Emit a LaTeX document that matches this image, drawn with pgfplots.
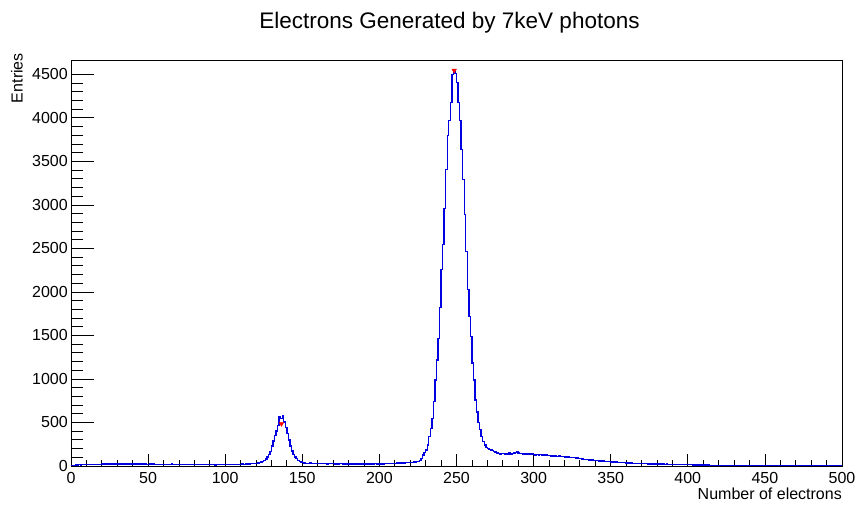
\documentclass[border=0pt]{standalone}
\usepackage{fontspec}
\setmainfont{Liberation Sans}
\usepackage{pgfplots}
\usepackage{pgfplotstable}
\pgfplotsset{compat=1.18}
\definecolor{rootblue}{RGB}{0,0,225}
\definecolor{rootred}{RGB}{255,0,0}
% histogram contents, bins of width 1 from 0 to 500 (last row closes the last bin)
\pgfplotstableread[row sep=\\]{
y\\
3\\6\\9\\11\\13\\14\\12\\15\\16\\14\\
17\\15\\18\\16\\19\\17\\20\\18\\17\\19\\
21\\19\\22\\24\\20\\23\\26\\22\\25\\23\\
26\\24\\27\\23\\28\\25\\22\\24\\26\\23\\
21\\24\\22\\20\\23\\25\\21\\19\\22\\20\\
18\\21\\19\\22\\17\\20\\18\\16\\19\\17\\
20\\18\\15\\19\\17\\21\\18\\16\\19\\17\\
15\\18\\16\\19\\17\\14\\18\\16\\15\\17\\
16\\14\\17\\15\\18\\16\\14\\17\\15\\16\\
14\\17\\15\\13\\16\\14\\17\\15\\16\\14\\
15\\16\\14\\17\\16\\18\\17\\19\\18\\20\\
19\\21\\20\\22\\23\\25\\26\\27\\29\\30\\
32\\35\\38\\44\\52\\63\\80\\103\\130\\168\\
228\\288\\350\\402\\462\\570\\545\\575\\505\\440\\
370\\300\\232\\172\\135\\105\\84\\66\\55\\45\\
39\\35\\32\\31\\29\\33\\30\\28\\32\\30\\
27\\31\\29\\26\\30\\28\\25\\29\\27\\26\\
28\\25\\27\\24\\28\\26\\23\\27\\25\\24\\
26\\23\\25\\27\\24\\22\\26\\24\\23\\25\\
22\\24\\26\\23\\25\\22\\24\\26\\23\\25\\
24\\27\\25\\28\\26\\29\\27\\30\\28\\31\\
30\\33\\31\\34\\33\\36\\35\\38\\37\\40\\
41\\43\\45\\47\\50\\55\\66\\88\\126\\152\\
184\\241\\337\\433\\548\\739\\988\\1218\\1467\\1818\\
2256\\2543\\2958\\3407\\3798\\3970\\4174\\4500\\4530\\4510\\
4404\\4174\\3970\\3637\\3291\\2889\\2463\\2026\\1715\\1488\\
1185\\990\\760\\621\\500\\420\\340\\280\\240\\215\\
203\\190\\182\\175\\170\\162\\150\\145\\140\\146\\
142\\138\\145\\140\\150\\137\\143\\148\\155\\160\\
150\\142\\146\\138\\144\\140\\136\\142\\135\\138\\
132\\128\\130\\125\\129\\124\\127\\122\\125\\119\\
118\\115\\120\\112\\116\\110\\114\\108\\111\\106\\
104\\100\\103\\98\\101\\96\\99\\94\\92\\88\\
84\\80\\78\\75\\77\\72\\70\\68\\71\\66\\
63\\60\\58\\61\\56\\58\\54\\55\\52\\50\\
48\\46\\44\\45\\42\\43\\40\\41\\38\\37\\
36\\34\\33\\35\\31\\32\\30\\29\\31\\28\\
28\\27\\26\\27\\25\\26\\24\\25\\24\\23\\
24\\22\\23\\21\\22\\20\\21\\19\\20\\19\\
18\\19\\17\\18\\16\\17\\15\\16\\15\\16\\
16\\14\\15\\13\\14\\12\\13\\11\\12\\10\\
11\\10\\9\\10\\8\\9\\7\\8\\7\\6\\
6\\5\\6\\5\\4\\5\\4\\4\\3\\4\\
3\\3\\2\\3\\2\\2\\3\\2\\1\\2\\
1\\2\\1\\1\\0\\1\\1\\0\\1\\0\\
0\\1\\0\\0\\0\\1\\0\\0\\0\\0\\
0\\0\\0\\0\\0\\0\\0\\0\\0\\0\\
0\\0\\0\\0\\0\\0\\0\\0\\0\\0\\
0\\0\\0\\0\\0\\0\\0\\0\\0\\0\\
0\\0\\0\\0\\0\\0\\0\\0\\0\\0\\
0\\
}\histdata
\begin{document}
\begin{tikzpicture}
\useasboundingbox (-71bp,-40bp) rectangle (788bp,466bp);
\begin{axis}[
  at={(0,0)}, anchor=south west,
  scale only axis, width=771bp, height=406bp,
  xmin=0, xmax=500, ymin=0, ymax=4665,
  axis line style={line width=0.9bp, black},
  xtick={0,50,...,500}, ytick={0,500,...,4500},
  minor x tick num=4, minor y tick num=4,
  tick align=inside, xtick pos=bottom, ytick pos=left,
  xtick style={line width=0.8bp, black, /pgfplots/major tick length=12bp, /pgfplots/minor tick length=6bp},
  ytick style={line width=0.8bp, black, /pgfplots/major tick length=23bp, /pgfplots/minor tick length=11.5bp},
  /pgf/number format/assume math mode=true,
  /pgf/number format/1000 sep={},
  scaled ticks=false,
  tick label style={font=\fontsize{16bp}{19bp}\selectfont},
  xticklabel style={anchor=base, inner sep=0pt, yshift=-17bp},
  yticklabel style={anchor=east, inner sep=0pt, xshift=-3bp},
  xlabel={Number of electrons},
  xlabel style={at={(axis description cs:1,-0.0837)}, anchor=base east, inner sep=0pt, font=\fontsize{16bp}{19bp}\selectfont},
  ylabel={Entries},
  ylabel style={at={(axis description cs:-0.0627,1.0172)}, anchor=base east, inner sep=0pt, font=\fontsize{16bp}{19bp}\selectfont},
  title={Electrons Generated by 7keV photons},
  title style={at={(axis description cs:0.4909,1.064)}, anchor=base, inner sep=0pt, font=\fontsize{22.5bp}{27bp}\selectfont},
  clip=true,
]
\addplot[const plot, draw=rootblue, line width=1.4bp] table[x expr=\coordindex, y=y] {\histdata};
\addplot[only marks, mark=triangle*, mark size=2.6bp, mark options={rotate=180, fill=rootred, draw=rootred}] coordinates {(248.5,4545) (136.5,485)};
\end{axis}
\end{tikzpicture}
\end{document}
